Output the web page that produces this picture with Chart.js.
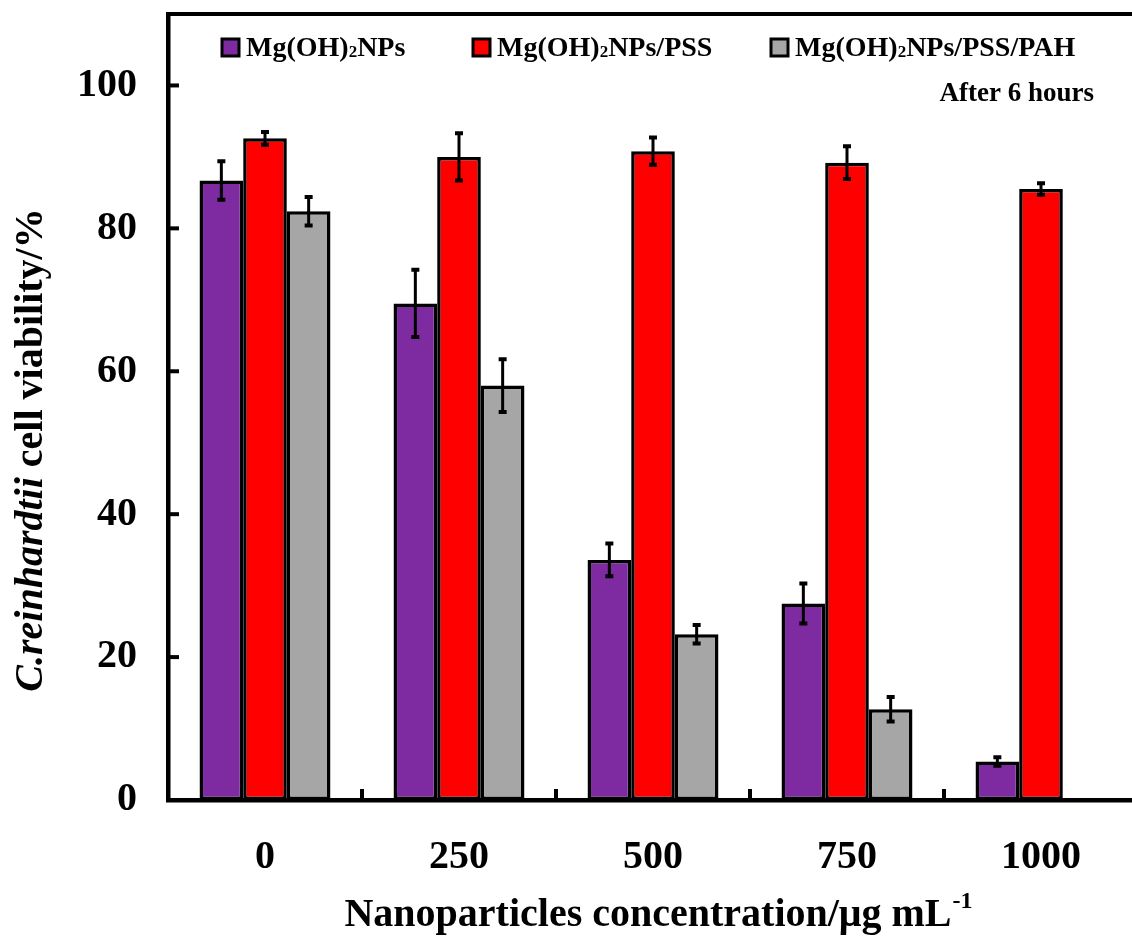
<!DOCTYPE html>
<html>
<head>
<meta charset="utf-8">
<script src="https://cdn.jsdelivr.net/npm/chart.js@4.4.1/dist/chart.umd.min.js"></script>
<style>
  html, body { margin: 0; padding: 0; background: #fff; overflow: hidden; }
  #wrap { position: absolute; left: 0; top: 0; width: 1150px; height: 938px; }
</style>
</head>
<body>
<div id="wrap"><canvas id="chart" width="1150" height="938"></canvas></div>
<script>
/* Cell viability bar chart, three coatings, with error bars */

const categories = ['0', '250', '500', '750', '1000'];
const seriesNames = ['Mg(OH)₂NPs', 'Mg(OH)₂NPs/PSS', 'Mg(OH)₂NPs/PSS/PAH'];
const seriesColors = ['#7E2AA1', '#FF0000', '#A6A6A6'];

const bareNPs   = [86.7, 69.5, 33.6, 27.5, 5.4];
const pssNPs    = [92.6, 90.0, 90.8, 89.2, 85.5];
const pahNPs    = [82.4, 58.0, 23.2, 12.7, null];

const bareErr   = [2.7, 4.7, 2.3, 2.8, 0.6];
const pssErr    = [0.9, 3.3, 1.9, 2.3, 0.8];
const pahErr    = [2.0, 3.7, 1.3, 1.7, null];

const yTicks = [0, 20, 40, 60, 80, 100];
const yMax = 110;

const SERIF = "'Liberation Serif', 'Times New Roman', serif";
const errors = [bareErr, pssErr, pahErr];

// ── error bars, frame, inner ticks, legend and titles ──
const decor = {
  id: 'decor',
  afterDatasetsDraw(chart) {
    const { ctx, chartArea: a, scales: { x, y } } = chart;
    ctx.save();
    ctx.strokeStyle = '#000';
    ctx.lineCap = 'butt';

    // error bars
    chart.data.datasets.forEach((ds, i) => {
      const meta = chart.getDatasetMeta(i);
      meta.data.forEach((bar, j) => {
        const v = ds.data[j], e = errors[i][j];
        if (v == null || e == null) return;
        const yt = y.getPixelForValue(v + e), yb = y.getPixelForValue(v - e);
        ctx.lineWidth = 3;
        ctx.beginPath(); ctx.moveTo(bar.x, yt); ctx.lineTo(bar.x, yb); ctx.stroke();
        ctx.lineWidth = 4;
        ctx.beginPath();
        ctx.moveTo(bar.x - 4, yt); ctx.lineTo(bar.x + 4, yt);
        ctx.moveTo(bar.x - 4, yb); ctx.lineTo(bar.x + 4, yb);
        ctx.stroke();
      });
    });

    // top frame line
    ctx.lineWidth = 4;
    ctx.beginPath(); ctx.moveTo(a.left - 2, a.top); ctx.lineTo(a.right + 20, a.top); ctx.stroke();

    // inner y ticks
    yTicks.slice(1).forEach(v => {
      const py = y.getPixelForValue(v);
      ctx.beginPath(); ctx.moveTo(a.left, py); ctx.lineTo(a.left + 11, py); ctx.stroke();
    });
    // inner x ticks between groups
    for (let i = 0; i < categories.length - 1; i++) {
      const px = (x.getPixelForValue(i) + x.getPixelForValue(i + 1)) / 2;
      ctx.beginPath(); ctx.moveTo(px, a.bottom); ctx.lineTo(px, a.bottom - 11); ctx.stroke();
    }

    // legend
    const legX = [222, 473, 771];
    chart.data.datasets.forEach((ds, i) => {
      const bx = legX[i], by = 39;
      ctx.fillStyle = ds.backgroundColor;
      ctx.fillRect(bx, by, 17, 17);
      ctx.lineWidth = 3;
      ctx.strokeRect(bx, by, 17, 17);
      drawSubLabel(ctx, ds.label, bx + 24, 56);
    });

    // note
    ctx.fillStyle = '#000';
    ctx.font = `bold 27px ${SERIF}`;
    ctx.textAlign = 'right';
    ctx.textBaseline = 'alphabetic';
    ctx.fillText('After 6 hours', 1094, 101);

    // x title with superscript
    const xt = 'Nanoparticles concentration/μg mL', sup = '-1';
    ctx.font = `bold 40px ${SERIF}`;
    const w1 = ctx.measureText(xt).width;
    ctx.font = `bold 24px ${SERIF}`;
    const w2 = ctx.measureText(sup).width;
    let sx = 658 - (w1 + w2) / 2;
    ctx.textAlign = 'left';
    ctx.font = `bold 40px ${SERIF}`;
    ctx.fillText(xt, sx, 926);
    ctx.font = `bold 24px ${SERIF}`;
    ctx.fillText(sup, sx + w1 + 1, 908);

    // y title, italic species name
    ctx.translate(32, 450);
    ctx.rotate(-Math.PI / 2);
    const p1 = 'C.reinhardtii', p2 = ' cell viability/%';
    ctx.font = `italic bold 40px ${SERIF}`;
    const t1 = ctx.measureText(p1).width;
    ctx.font = `bold 40px ${SERIF}`;
    const t2 = ctx.measureText(p2).width;
    let tx = -(t1 + t2) / 2;
    ctx.textBaseline = 'middle';
    ctx.font = `italic bold 40px ${SERIF}`;
    ctx.fillText(p1, tx, 0);
    ctx.font = `bold 40px ${SERIF}`;
    ctx.fillText(p2, tx + t1, 0);
    ctx.restore();
  }
};

// draws "Mg(OH)₂..." with a small subscript 2
function drawSubLabel(ctx, label, x, base) {
  const parts = label.split('₂');
  ctx.fillStyle = '#000';
  ctx.textAlign = 'left';
  ctx.textBaseline = 'alphabetic';
  ctx.font = `bold 28px ${SERIF}`;
  ctx.fillText(parts[0], x, base);
  x += ctx.measureText(parts[0]).width;
  ctx.font = `bold 17px ${SERIF}`;
  ctx.fillText('2', x, base + 1);
  x += ctx.measureText('2').width;
  ctx.font = `bold 28px ${SERIF}`;
  ctx.fillText(parts[1], x, base);
}

new Chart(document.getElementById('chart'), {
  type: 'bar',
  data: {
    labels: categories,
    datasets: [bareNPs, pssNPs, pahNPs].map((d, i) => ({
      label: seriesNames[i],
      data: d,
      backgroundColor: seriesColors[i],
      borderColor: '#000',
      borderWidth: 3.5,
      borderSkipped: false,
      barPercentage: 1,
      categoryPercentage: 0.675,
    }))
  },
  options: {
    responsive: false,
    animation: false,
    layout: { padding: { left: 0, right: 12, top: 14, bottom: 0 } },
    plugins: { legend: { display: false }, tooltip: { enabled: false } },
    scales: {
      x: {
        grid: { display: false, drawTicks: false },
        border: { display: true, color: '#000', width: 4.5 },
        ticks: { color: '#000', padding: 34, font: { family: SERIF, size: 40, weight: 'bold' } },
        afterFit: s => { s.height = 138; s.paddingLeft = 0; s.paddingRight = 0; },
      },
      y: {
        min: 0, max: yMax,
        grid: { display: false, drawTicks: false },
        border: { display: true, color: '#000', width: 4.5 },
        ticks: { color: '#000', padding: 31, font: { family: SERIF, size: 40, weight: 'bold' } },
        afterBuildTicks: s => { s.ticks = yTicks.map(v => ({ value: v })); },
        afterFit: s => { s.width = 168; s.paddingTop = 0; s.paddingBottom = 0; },
      }
    }
  },
  plugins: [decor]
});
</script>
</body>
</html>
